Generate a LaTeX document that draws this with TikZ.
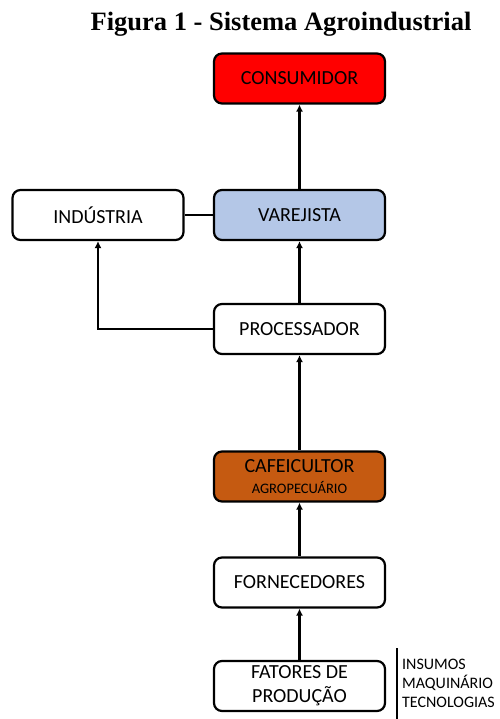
\documentclass[tikz,border=0pt]{standalone}
\usepackage{fontspec}
\setmainfont{Carlito}
\newfontfamily\titlefont{Liberation Serif}
\usetikzlibrary{arrows.meta}
\definecolor{cred}{HTML}{FF0000}
\definecolor{cblue}{HTML}{B4C7E7}
\definecolor{corange}{HTML}{C55A11}
\begin{document}
\begin{tikzpicture}[x=1pt,y=-1pt,
  box/.style={draw=black,line width=2.2pt,rounded corners=8pt,minimum width=171pt,minimum height=50pt,inner sep=0pt,align=center,font=\fontsize{20}{24}\selectfont},
  conn/.style={line width=2.3pt,-{Latex[length=7pt,width=7pt]}}]
\useasboundingbox (0,0) rectangle (499,719);
\node[font=\titlefont\bfseries\fontsize{26.5}{30}\selectfont] (title) at (281,24) {Figura 1 - Sistema Agroindustrial};
\node[box,fill=cred] (cons) at (299.5,78.5) {CONSUMIDOR};
\node[box,fill=cblue] (var) at (299.5,215) {VAREJISTA};
\node[box,fill=white] (ind) at (98,215) {INDÚSTRIA};
\node[box,fill=white] (proc) at (299.5,329) {PROCESSADOR};
\node[box,fill=corange] (cafe) at (299.5,476.5) {CAFEICULTOR\\[-3pt]{\fontsize{14.5}{16}\selectfont AGROPECUÁRIO}};
\node[box,fill=white] (forn) at (299.5,582.5) {FORNECEDORES};
\node[box,fill=white] (fat) at (299.5,686) {FATORES DE\\PRODUÇÃO};
\coordinate (bar1) at (397,648);
\coordinate (bar2) at (397,719);
\draw[line width=1.6pt] (bar1) -- (bar2);
\node[anchor=west,align=left,inner sep=0pt,font=\fontsize{16}{19}\selectfont] (ins) at (402,683) {INSUMOS\\MAQUINÁRIO\\TECNOLOGIAS};
\draw[conn] (var) -- (cons);
\draw[conn] (proc) -- (var);
\draw[line width=1.3pt] (ind) -- (var);
\draw[conn] (proc.west) -| (ind.south);
\draw[conn] (cafe) -- (proc);
\draw[conn] (forn) -- (cafe);
\draw[conn] (fat) -- (forn);
\end{tikzpicture}
\end{document}
